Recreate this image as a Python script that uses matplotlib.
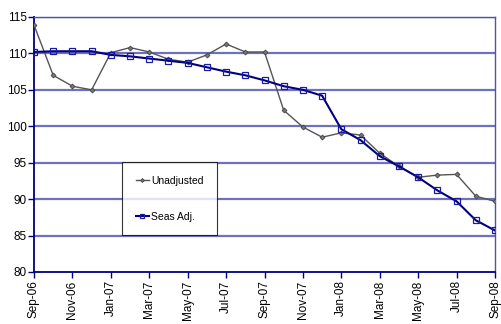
import matplotlib
matplotlib.use("Agg")
import matplotlib.pyplot as plt
import pandas as pd

plt.rcParams['font.family'] = ['Liberation Sans', 'DejaVu Sans']

months = pd.date_range("2006-09-01", "2008-09-01", freq="MS")
unadjusted = [113.9, 107.0, 105.5, 105.0, 110.1, 110.8, 110.2, 109.2, 108.8, 109.8,
              111.3, 110.2, 110.2, 102.2, 99.9, 98.5, 99.1, 98.8, 96.3, 94.5,
              93.0, 93.3, 93.4, 90.4, 89.7]
seas_adj = [110.2, 110.3, 110.3, 110.3, 109.8, 109.6, 109.3, 109.0, 108.7, 108.1,
            107.5, 107.0, 106.3, 105.5, 105.0, 104.2, 99.6, 98.1, 95.9, 94.5,
            93.0, 91.2, 89.7, 87.1, 85.7]
yticks = [80, 85, 90, 95, 100, 105, 110, 115]

fig = plt.figure(figsize=(5.01, 3.24), dpi=100)
ax = fig.add_axes([34/501, 52/324, 461/501, 255/324])

x = list(range(len(months)))
ax.plot(x, unadjusted, color='#555555', lw=1.0, marker='D', ms=2.5,
        mfc='#777777', mec='#444444', mew=0.6, label='Unadjusted', zorder=3)
ax.plot(x, seas_adj, color='#000080', lw=1.5, marker='s', ms=4,
        mfc='none', mec='#1a1aa0', mew=0.9, label='Seas Adj.', zorder=4)

ax.set_xlim(0, len(months) - 1)
ax.set_ylim(80, 115)
ax.set_yticks(yticks)
ax.set_xticks(x[::2])
ax.set_xticklabels([m.strftime('%b-%y') for m in months[::2]], rotation=90)
ax.tick_params(axis='both', labelsize=8.5, length=4, color='#000080', width=1, pad=2)
ax.tick_params(axis='x', direction='out')
ax.tick_params(axis='y', direction='out', pad=1)
for y in yticks[1:]:
    ax.axhline(y, color='#7070c0', lw=1.6, zorder=1)
for s in ['left', 'bottom']:
    ax.spines[s].set_color('#000080')
    ax.spines[s].set_linewidth(1.3)
for s in ['right', 'top']:
    ax.spines[s].set_color('#5050b0')
    ax.spines[s].set_linewidth(1.0)

leg = ax.legend(loc='upper left', bbox_to_anchor=(88/461, (272-162)/255), frameon=True,
                fancybox=False, edgecolor='black', fontsize=7.5, handlelength=1.3,
                labelspacing=2.5, borderpad=1.3, handletextpad=0.2, borderaxespad=0,
                markerscale=0.8)
leg.get_frame().set_linewidth(0.8)
leg.set_zorder(5)

fig.savefig('out.png', dpi=100)
